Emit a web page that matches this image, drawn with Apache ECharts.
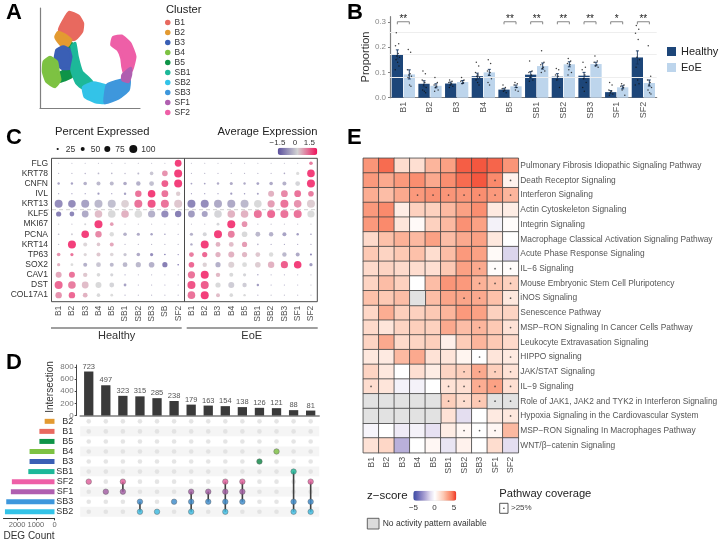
<!DOCTYPE html>
<html>
<head>
<meta charset="utf-8">
<style>html,body{margin:0;background:#fff}#chart{width:720px;height:539px}</style>
<script src="https://cdn.jsdelivr.net/npm/echarts@6/dist/echarts.min.js"></script>
</head>
<body>
<div id="chart"></div>
<script>
// shared
const clusters = ['B1','B2','B3','B4','B5','SB1','SB2','SB3','SF1','SF2']
const clusterColors = ['#E8695F','#E39A31','#3A5FB5','#7DC242','#0E9448','#1DB899','#33C3E8','#3E97DC','#B05FB0','#EE5FA7']

// A: cluster outlines
const umapOutlines = {
  B5: [[25,63],[31.7,64.7],[35,54.7],[32.7,44.7],[31.7,31.3],[18.3,26.3],[16.7,33],[28.3,39.7],[26.7,51.3]],
  B1: [[29.3,95.7],[38.3,92],[42.7,84.7],[41.7,76.3],[35,68.7],[28.3,68.7],[19.3,78],[24,88]],
  B2: [[18.3,75.7],[25,73],[31,68],[28.3,63],[23.3,61.3],[18.3,66.3],[15.7,71.3]],
  B3: [[16.7,58],[23.3,61.3],[30,58],[31.7,48],[30.7,39.7],[21.7,39.7],[15,46.3]],
  B4: [[10,50.7],[16.7,46.3],[18.3,36.3],[20,28],[15,21.3],[6.7,26.3],[3.3,36.3],[4,46.3]],
  SB1: [[31.7,61.3],[35,64.7],[37.3,51.3],[41.7,36.3],[51.7,26.3],[43.3,19.7],[36.7,24.7],[31.7,38],[34,51.3]],
  SB2: [[43.3,20.7],[53.3,25.3],[66,22],[68.3,13],[65,5.3],[55,6.3],[45,11.3]],
  SB3: [[67.3,23],[81.7,28],[89.3,28],[88.3,18],[78.3,9.7],[65,5.3]],
  SF1: [[82.7,33],[90.7,39.7],[90.7,33],[88.3,26.3],[82.7,28]],
  SF2: [[73.3,70.7],[81.7,72],[90,64.7],[95,51.3],[91.7,38],[85.3,32],[82.7,41.3],[81.7,49.7],[78.3,58],[71.7,63]]
}
const drawOrder = ['B5','B1','B2','B3','B4','SB1','SB2','SB3','SF2','SF1']

// B
const healthyMeans = [0.171,0.055,0.056,0.085,0.032,0.091,0.083,0.087,0.022,0.159]
const eoeMeans = [0.092,0.047,0.062,0.1,0.045,0.125,0.132,0.133,0.041,0.058]
const healthyErr = [0.018,0.012,0.006,0.012,0.005,0.012,0.012,0.013,0.006,0.026]
const eoeErr = [0.018,0.008,0.006,0.012,0.005,0.012,0.01,0.007,0.006,0.012]
const healthyDots = [
  [.257,.213,.205,.175,.165,.16,.15,.14,.125,.11],
  [.105,.095,.07,.06,.05,.04,.03,.025,.02],
  [.07,.065,.06,.055,.05,.045,.04],
  [.14,.125,.1,.09,.085,.08,.07,.06,.05],
  [.05,.04,.035,.03,.025,.02],
  [.145,.105,.1,.09,.08,.07,.065],
  [.115,.11,.09,.085,.07,.04],
  [.14,.12,.11,.09,.075,.06,.04,.025],
  [.06,.05,.03,.025,.02,.015,.01],
  [.285,.27,.255,.23,.16,.15,.12,.07,.055,.05]
]
const eoeDots = [
  [.19,.18,.11,.095,.09,.085,.08,.05,.045],
  [.08,.06,.05,.045,.04,.03,.025],
  [.08,.07,.065,.06,.055],
  [.15,.135,.105,.1,.09,.075,.06,.05],
  [.06,.055,.05,.04,.03,.025],
  [.185,.14,.13,.12,.115,.105,.1],
  [.155,.145,.135,.13,.11,.1,.09],
  [.165,.145,.14,.13,.125,.12],
  [.055,.05,.045,.04,.03,.01],
  [.205,.085,.07,.06,.05,.04,.03,.02,.015]
]
const jitter = [-.04,.05,-.07,.03,-.02,.08,-.05,.01,.06,-.08]
const signif = [['B1','**'],['B5','**'],['SB1','**'],['SB2','**'],['SB3','**'],['SF1','*'],['SF2','**']]
const faintLines = [0.257,0.171,0.083]

// C: one entry per gene, 20 columns (Healthy then EoE)
const genes = ['FLG','KRT78','CNFN','IVL','KRT13','KLF5','MKI67','PCNA','KRT14','TP63','SOX2','CAV1','DST','COL17A1']
const dotColumns = ['B1','B2','B3','B4','B5','SB1','SB2','SB3','SB','SF2','B1','B2','B3','B4','B5','SB1','SB2','SB3','SF1','SF2']
const pctExpressed = [
  [5,5,5,5,8,8,10,10,15,85, 5,5,5,5,6,6,6,8,10,45],
  [12,12,18,22,20,18,25,45,70,100, 8,8,8,8,10,10,12,20,40,95],
  [30,30,45,50,50,45,55,60,85,100, 22,22,30,38,30,35,45,50,60,100],
  [8,12,15,28,12,30,80,95,85,55, 10,10,15,28,18,25,75,85,85,70],
  [100,95,100,100,100,95,100,100,100,100, 100,100,100,100,100,95,90,100,95,100],
  [65,60,85,95,95,95,95,90,90,80, 85,75,95,95,95,100,100,100,100,90],
  [6,6,25,100,45,6,6,5,5,5, 6,6,35,100,70,8,8,6,6,6],
  [20,25,95,80,55,45,40,30,20,15, 40,50,100,85,70,60,55,50,30,20],
  [15,100,50,45,50,10,8,8,8,8, 30,100,60,60,65,20,12,12,12,12],
  [45,40,40,50,45,40,45,40,20,15, 60,65,65,75,65,60,55,55,50,25],
  [40,35,50,60,50,60,65,70,65,20, 70,55,65,75,60,70,80,90,95,40],
  [75,75,55,45,40,15,8,8,8,8, 90,100,55,50,40,18,10,10,10,8],
  [100,95,85,75,60,35,12,12,10,8, 100,100,65,75,55,30,12,12,10,8],
  [80,80,60,45,35,12,8,8,8,8, 95,100,50,45,30,10,8,8,8,8]
]
const avgExpression = [
  [-.4,-.4,-.4,-.4,-.4,-.4,-.4,-.4,-.4,1.5, -.4,-.4,-.4,-.4,-.4,-.4,-.4,-.4,-.4,.9],
  [-.5,-.5,-.6,-.5,-.5,-.5,-.5,-.3,.7,1.5, -.5,-.5,-.5,-.5,-.5,-.5,-.5,-.7,0,1.5],
  [-.8,-.8,-.6,-.5,-.5,-.7,-.6,-.4,1.2,1.5, -.8,-.8,-.7,-.7,-.7,-.8,-.7,-.6,-.1,1.5],
  [-.8,-.8,-.9,-.9,-.9,-.8,1,1.5,1,.15, -.9,-.9,-1,-.9,-.9,-.8,.4,.8,1,.9],
  [-1.1,-1.1,-.8,-.5,-.4,.1,1,1.3,1,.2, -1.2,-1.1,-.7,-.7,-.5,-.05,.6,1,.7,.15],
  [-1.3,-1.2,-.7,.3,-.05,.4,0,-.6,-1.1,-1.3, -.9,-.8,-.1,.4,.4,1,1.1,1,1,0],
  [-.3,-.3,-.1,1.5,.6,-.3,-.3,-.3,-.3,-.3, -.3,-.3,-.1,1.5,.7,-.4,-.4,-.3,-.3,-.3],
  [-.5,-.2,1.5,.8,0,-.6,-.7,-.8,-.8,-.8, -.6,-.1,1.5,.9,-.05,-.5,-.6,-.8,-.9,-.9],
  [-.5,1.5,.05,.2,.5,-.5,-.5,-.5,-.5,-.5, -.7,1.5,.4,.3,.6,-.6,-.7,-.7,-.7,-.7],
  [.7,1,.05,.2,.05,-.3,-.7,-1.1,-1.3,-1.3, .9,1.1,.4,.4,.35,.2,0,-.5,-.7,-1.2],
  [.4,0,-.6,-.3,-.5,-.5,-.5,-.6,-1.3,-1.5, 1.1,.1,-.6,.1,0,.15,.4,1.2,1.5,-.9],
  [.5,1,.2,-.05,-.1,-.8,-.5,-.5,-.5,-.5, 1,1.5,.35,-.05,-.1,-.8,-.6,-.6,-.5,-.5],
  [1.1,.9,.3,-.05,-.1,-.8,-.7,-.7,-.7,-.6, 1.3,1.2,-.05,-.2,-.2,-.9,-.8,-.7,-.6,-.5],
  [.7,1.1,.4,-.05,0,-.6,-.5,-.5,-.5,-.5, 1,1.5,.3,-.05,-.05,-.6,-.4,-.4,-.4,-.4]
]
const sizeLegend = [25,50,75,100]

// D
const intersectionSizes = [723,497,323,315,285,238,179,163,154,138,126,121,88,81]
const degSets = ['B2','B1','B5','B4','B3','SB1','SF2','SF1','SB3','SB2']
const degCounts = [526,807,807,1333,1333,1400,2280,2333,2580,2650]
const degColors = ['#E39A31','#E8695F','#0E9448','#7DC242','#3A5FB5','#1DB899','#EE5FA7','#B05FB0','#3E97DC','#33C3E8']
const memberships = [
  ['SF2'],['SF1'],['SF2','SF1'],['SB3','SB2'],['SB2'],['SB3'],['SF1','SB3','SB2'],
  ['SF1','SB3'],['SF2','SF1','SB3','SB2'],['SF2','SF1','SB3'],['B3'],['B4'],['SB1','SB3','SB2'],['SF2','SB3','SB2']
]
const memberColors = {SF2:'#E5609F',SF1:'#A45CA5',SB3:'#3E8FCF',SB2:'#3DBDE3',B3:'#0F8A47',B4:'#7DC242',SB1:'#1DB899'}

// E
const pathways = [
  'Pulmonary Fibrosis Idiopathic Signaling Pathway','Death Receptor Signaling','Interferon Signaling',
  'Actin Cytoskeleton Signaling','Integrin Signaling','Macrophage Classical Activation Signaling Pathway',
  'Acute Phase Response Signaling','IL−6 Signaling','Mouse Embryonic Stem Cell Pluripotency','iNOS Signaling',
  'Senescence Pathway','MSP−RON Signaling In Cancer Cells Pathway','Leukocyte Extravasation Signaling',
  'HIPPO signaling','JAK/STAT Signaling','IL−9 Signaling','Role of JAK1, JAK2 and TYK2 in Interferon Signaling',
  'Hypoxia Signaling in the Cardiovascular System','MSP−RON Signaling In Macrophages Pathway','WNT/β−catenin Signaling'
]
const zScores = [
  [3.3,4.2,1.3,1.2,2.5,3,4.4,4.5,4.3,3.3],
  [3.2,2.8,3.2,3.5,2.8,3.5,4.2,4.5,3.6,.5],
  [2.7,2.3,2.8,3.2,3.4,3.3,3.3,3.5,3.2,2.5],
  [3.2,3.6,.7,1.7,1.7,2.4,3,3.5,.8,.7],
  [3.2,3.6,1,.2,1.7,2.4,3.4,3,-.4,.1],
  [1.4,2.2,2.6,2.4,3,2.3,2.8,3,.9,0],
  [2,1.6,2,2.2,1.3,2.3,3.2,3,.2,-1.2],
  [1.4,1.6,1.4,1.3,1.2,2,3,2.8,.1,.1],
  [1.6,2.3,1.7,0,2.3,3.3,3.2,2.6,2.2,1.7],
  [2.2,2,2.3,null,2.3,2.9,2.9,2.8,2.2,.9],
  [1.5,2.7,1.8,1.7,2,2.5,3.2,3,1.7,1.6],
  [1.4,1,1.6,1.8,1.7,2.8,2.3,2.5,2,1.1],
  [1.6,2.8,1.4,1.6,1.8,.6,1.9,2.5,2,1.4],
  [.9,.8,2.4,2.8,1.1,1,.4,0,1,.8],
  [1.6,.9,0,1.2,.7,1.6,1.8,2.8,1.8,1.1],
  [1.3,1,-.4,-.4,0,1.1,1.2,2.7,3,1.2],
  [null,null,null,null,null,1.8,1.3,2,null,null],
  [null,null,null,null,null,1.1,-1,0,.8,.9],
  [-.3,0,-.6,-.4,-.9,.7,.3,0,.3,2.4],
  [1.1,1.5,-2,0,.3,-.8,.5,0,1.3,-1]
]
const coverageDots = [[],[8,9],[3,4,5,6,7,8,9],[],[],[],[],[7,8,9],[7,8,9],[6,7,9],[],[7,9],[],[7,9],[6,7,8,9],[0,5,6,7,8,9],[5,6,7,8,9],[9],[6,7,8],[]]

const FONT = '"Liberation Sans", Arial, sans-serif'
const GREY = '#7f7f7f'
const series = []
const graphic = []

const txt = (text, x, y, size, fill = '#222', extra = {}, rotation = 0) => graphic.push({
  type: 'text', x, y, rotation, silent: true, z: 20,
  style: { text, fontSize: size, fontFamily: FONT, fill, textVerticalAlign: 'middle', ...extra }
})
const seg = (x1, y1, x2, y2, stroke, lineWidth = 1, lineDash) => graphic.push({
  type: 'line', silent: true, z: 19, shape: { x1, y1, x2, y2 }, style: { stroke, lineWidth, lineDash }
})

// panel letters
txt('A', 6, 12.5, 22, '#000', { fontWeight: 'bold' })
txt('B', 347, 12.5, 22, '#000', { fontWeight: 'bold' })
txt('C', 6, 138, 22, '#000', { fontWeight: 'bold' })
txt('D', 6, 363, 22, '#000', { fontWeight: 'bold' })
txt('E', 347, 138, 22, '#000', { fontWeight: 'bold' })

// ---- A ----
drawOrder.forEach((name) => {
  const color = clusterColors[clusters.indexOf(name)]
  const outline = umapOutlines[name]
  series.push({
    name, type: 'custom', xAxisIndex: 0, yAxisIndex: 0, clip: false,
    itemStyle: { color },
    data: outline,
    renderItem: (params, api) => {
      if (params.dataIndex !== 0) return null
      return {
        type: 'polygon',
        shape: { points: outline.map((p) => api.coord(p)), smooth: 0.15 },
        style: { fill: color, stroke: color, lineWidth: 3, lineJoin: 'round' }
      }
    }
  })
})
txt('Cluster', 166, 10, 11.2)

// ---- B ----
series.push({
  name: 'Healthy', type: 'bar', xAxisIndex: 1, yAxisIndex: 1, data: healthyMeans, barWidth: 11.3, barGap: '6%',
  itemStyle: { color: '#1D4679' },
  markLine: { silent: true, symbol: 'none', label: { show: false }, lineStyle: { color: '#eeeeee', type: 'solid', width: 1 }, data: faintLines.map((v) => ({ yAxis: v })) }
})
series.push({ name: 'EoE', type: 'bar', xAxisIndex: 1, yAxisIndex: 1, data: eoeMeans, barWidth: 11.3, barGap: '6%', itemStyle: { color: '#BDD5EC' } })

const dodge = [0.276, 0.724]
const errData = []
healthyMeans.forEach((v, i) => errData.push([i + dodge[0], v - healthyErr[i], v + healthyErr[i]]))
eoeMeans.forEach((v, i) => errData.push([i + dodge[1], v - eoeErr[i], v + eoeErr[i]]))
series.push({
  type: 'custom', xAxisIndex: 2, yAxisIndex: 1, data: errData, encode: { x: 0, y: [1, 2] }, z: 5,
  renderItem: (params, api) => {
    const lo = api.coord([api.value(0), api.value(1)])
    const hi = api.coord([api.value(0), api.value(2)])
    const st = { stroke: '#16365f', lineWidth: 0.9 }
    return { type: 'group', children: [
      { type: 'line', shape: { x1: lo[0], y1: lo[1], x2: hi[0], y2: hi[1] }, style: st },
      { type: 'line', shape: { x1: hi[0] - 1.5, y1: hi[1], x2: hi[0] + 1.5, y2: hi[1] }, style: st },
      { type: 'line', shape: { x1: lo[0] - 1.5, y1: lo[1], x2: lo[0] + 1.5, y2: lo[1] }, style: st }
    ] }
  }
})
const stripData = []
const pushStrip = (groups, d) => groups.forEach((ys, i) => ys.forEach((y, k) => stripData.push([i + d + jitter[k % jitter.length], y])))
pushStrip(healthyDots, dodge[0])
pushStrip(eoeDots, dodge[1])
series.push({ type: 'scatter', xAxisIndex: 2, yAxisIndex: 1, data: stripData, symbolSize: 1.5, itemStyle: { color: '#111' }, z: 6 })

series.push({
  type: 'custom', xAxisIndex: 2, yAxisIndex: 1, clip: false, z: 6,
  data: signif.map(([c, s]) => [clusters.indexOf(c) + 0.5, 0.3, s]),
  encode: { x: 0, y: 1 },
  renderItem: (params, api) => {
    const x0 = api.value(0)
    const a = api.coord([x0 - 0.225, 0.29])
    const b = api.coord([x0 - 0.225, 0.3])
    const c = api.coord([x0 + 0.225, 0.3])
    const d = api.coord([x0 + 0.225, 0.29])
    return { type: 'group', children: [
      { type: 'polyline', shape: { points: [a, b, c, d] }, style: { stroke: '#777', lineWidth: 0.9, fill: 'none' } },
      { type: 'text', x: (b[0] + c[0]) / 2, y: b[1] - 2.5, style: { text: signif[params.dataIndex][1], fontSize: 10, fontFamily: FONT, fill: '#222', textAlign: 'center', textVerticalAlign: 'middle' } }
    ] }
  }
})
txt('Proportion', 366, 57, 11, '#333', { textAlign: 'center' }, Math.PI / 2)

// ---- C ----
const dotIndex = series.length
const dotData = []
genes.forEach((g, r) => dotColumns.forEach((c, k) => dotData.push([k, r, pctExpressed[r][k], avgExpression[r][k]])))
series.push({
  type: 'scatter', xAxisIndex: 3, yAxisIndex: 3, data: dotData, encode: { x: 0, y: 1 },
  symbolSize: (v) => Math.max(v[2] * 0.08, 1.2)
})
graphic.push({ type: 'rect', silent: true, z: 19, shape: { x: 51.5, y: 158.3, width: 265.8, height: 143.4 }, style: { fill: 'none', stroke: '#4a4a4a', lineWidth: 1 } })
seg(184.5, 158.3, 184.5, 301.7, '#4a4a4a', 1)
seg(45, 209.7, 317, 209.7, '#cfcfcf', 1, [4, 3])
seg(51, 328, 181.7, 328, GREY, 1.3)
seg(186.7, 328, 317.7, 328, GREY, 1.3)
txt('Healthy', 116.7, 335.5, 11, '#333', { textAlign: 'center' })
txt('EoE', 251.7, 335.5, 11, '#333', { textAlign: 'center' })
txt('Percent Expressed', 55, 132, 11.2)
txt('Average Expression', 317.5, 132, 11.2, '#222', { textAlign: 'right' })
txt('−1.5', 277.5, 143, 8, '#333', { textAlign: 'center' })
txt('0', 295, 143, 8, '#333', { textAlign: 'center' })
txt('1.5', 309.3, 143, 8, '#333', { textAlign: 'center' })
sizeLegend.forEach((p, i) => {
  const x = [57.7, 82.7, 107.3, 133.3][i]
  graphic.push({ type: 'circle', silent: true, shape: { cx: x, cy: 149, r: Math.max(p * 0.04, 1.1) }, style: { fill: '#111' } })
  txt(String(p), x + 8, 149.5, 8.5, '#333')
})

// ---- D ----
series.push({
  type: 'bar', xAxisIndex: 4, yAxisIndex: 4, data: intersectionSizes, barWidth: 9.3,
  itemStyle: { color: '#3a3a3a' },
  label: { show: true, position: 'top', distance: 1, fontSize: 7.5, color: '#555', fontFamily: FONT }
})
series.push({
  type: 'bar', xAxisIndex: 6, yAxisIndex: 6, barWidth: 5,
  data: degCounts.map((v, i) => ({ value: v, itemStyle: { color: degColors[i] } }))
})
const allCells = []
intersectionSizes.forEach((_, c) => degSets.forEach((_s, r) => allCells.push([c, r])))
series.push({ type: 'scatter', xAxisIndex: 5, yAxisIndex: 5, data: allCells, symbolSize: 4.6, itemStyle: { color: '#dedede' }, z: 2 })
const linkData = []
const memberDots = []
memberships.forEach((sets, c) => {
  const rows = sets.map((s) => degSets.indexOf(s))
  if (rows.length > 1) linkData.push([c, Math.min(...rows), Math.max(...rows)])
  sets.forEach((s) => memberDots.push({ value: [c, degSets.indexOf(s)], itemStyle: { color: memberColors[s], borderColor: '#555', borderWidth: 0.5 } }))
})
series.push({
  type: 'custom', xAxisIndex: 5, yAxisIndex: 5, data: linkData, encode: { x: 0, y: [1, 2] }, z: 3,
  renderItem: (params, api) => {
    const a = api.coord([api.value(0), api.value(1)])
    const b = api.coord([api.value(0), api.value(2)])
    return { type: 'line', shape: { x1: a[0], y1: a[1], x2: b[0], y2: b[1] }, style: { stroke: '#404040', lineWidth: 1.6 } }
  }
})
series.push({ type: 'scatter', xAxisIndex: 5, yAxisIndex: 5, data: memberDots, symbolSize: 5.5, z: 4 })
txt('Intersection', 50.7, 387, 10, '#333', { textAlign: 'center' }, Math.PI / 2)

// ---- E ----
const heatIndex = series.length
const heatData = []
const naData = []
pathways.forEach((p, r) => clusters.forEach((c, k) => {
  if (zScores[r][k] === null) naData.push([k, r, 0])
  else heatData.push([k, r, zScores[r][k]])
}))
const cellStyle = { borderColor: '#444', borderWidth: 0.8 }
series.push({ type: 'heatmap', xAxisIndex: 7, yAxisIndex: 7, data: heatData, itemStyle: cellStyle })
series.push({ type: 'heatmap', xAxisIndex: 7, yAxisIndex: 7, data: naData, itemStyle: { ...cellStyle, color: '#E2E2E2' } })
const covData = []
coverageDots.forEach((cols, r) => cols.forEach((k) => covData.push([k, r])))
series.push({ type: 'scatter', xAxisIndex: 7, yAxisIndex: 7, data: covData, symbolSize: 1.7, itemStyle: { color: '#333' }, z: 5 })
txt('z−score', 367, 496, 11.5, '#222')
txt('−5', 413.5, 507.5, 8, '#333', { textAlign: 'center' })
txt('0', 434.5, 507.5, 8, '#333', { textAlign: 'center' })
txt('5', 454, 507.5, 8, '#333', { textAlign: 'center' })
txt('Pathway coverage', 499.3, 494, 11.2, '#222')
graphic.push({ type: 'rect', silent: true, shape: { x: 499.7, y: 503.3, width: 8.3, height: 10 }, style: { fill: '#fff', stroke: '#444', lineWidth: 0.9 } })
graphic.push({ type: 'circle', silent: true, z: 20, shape: { cx: 503.9, cy: 508.3, r: 0.8 }, style: { fill: '#333' } })
txt('>25%', 511, 508, 8, '#444')
graphic.push({ type: 'rect', silent: true, shape: { x: 367.3, y: 518.3, width: 11.7, height: 10.7 }, style: { fill: '#DCDCDC', stroke: '#555', lineWidth: 0.9 } })
txt('No activity pattern available', 382.7, 524, 8.5, '#333')

const hiddenValue = { type: 'value', show: false, splitLine: { show: false } }
const greyLine = { lineStyle: { color: GREY, width: 1.2 } }
const fixedGrid = { outerBoundsMode: 'none' }

const option = {
  animation: false,
  textStyle: { fontFamily: FONT },
  grid: [
    { ...fixedGrid, left: 40, top: 8, width: 100, height: 100 },
    { ...fixedGrid, left: 390, top: 16.7, width: 266.7, height: 81 },
    { ...fixedGrid, left: 52, top: 158.2, width: 265.6, height: 142 },
    { ...fixedGrid, left: 80.2, top: 365, width: 239, height: 50.5 },
    { ...fixedGrid, left: 80.2, top: 416.3, width: 239, height: 100.5 },
    { ...fixedGrid, left: 3.5, top: 416.3, width: 51, height: 100.5 },
    { ...fixedGrid, left: 363.3, top: 158.3, width: 155, height: 294.4 }
  ],
  xAxis: [
    { gridIndex: 0, type: 'value', min: 0, max: 100, axisLine: { show: true, ...greyLine }, axisTick: { show: false }, axisLabel: { show: false }, splitLine: { show: false } },
    { gridIndex: 1, type: 'category', data: clusters, axisLine: greyLine, axisTick: { length: 2, lineStyle: { color: GREY } },
      axisLabel: { rotate: 90, fontSize: 9, color: '#555', margin: 4, interval: 0 } },
    { gridIndex: 1, ...hiddenValue, min: 0, max: 10 },
    { gridIndex: 2, type: 'category', data: dotColumns, offset: 1.5, axisLine: { show: false }, axisTick: { length: 2, lineStyle: { color: '#666' } },
      axisLabel: { rotate: 90, fontSize: 8.5, color: '#555', margin: 4, interval: 0 } },
    { gridIndex: 3, type: 'category', data: intersectionSizes.map((v, i) => String(i)), axisLine: { lineStyle: { color: GREY, width: 1.5 } }, axisTick: { show: false }, axisLabel: { show: false } },
    { gridIndex: 4, type: 'category', data: intersectionSizes.map((v, i) => String(i)), axisLine: { show: false }, axisTick: { show: false }, axisLabel: { show: false } },
    { gridIndex: 5, type: 'value', inverse: true, min: 0, max: 2727, offset: 1.5, splitLine: { show: false },
      axisLine: { show: true, lineStyle: { color: '#333', width: 1 } },
      axisTick: { show: true, length: 2, customValues: [0, 1000, 2000], lineStyle: { color: '#333' } },
      axisLabel: { fontSize: 7.5, color: '#666', margin: 3, customValues: [0, 1000, 2000], formatter: (v) => String(v) },
      name: 'DEG Count', nameLocation: 'middle', nameGap: 13, nameTextStyle: { fontSize: 10, color: '#333' } },
    { gridIndex: 6, type: 'category', data: clusters, axisLine: { show: false }, axisTick: { length: 2, lineStyle: { color: '#444' } },
      axisLabel: { rotate: 90, fontSize: 9, color: '#555', margin: 4, interval: 0 } }
  ],
  yAxis: [
    { gridIndex: 0, type: 'value', min: 0, max: 100, axisLine: { show: true, ...greyLine }, axisTick: { show: false }, axisLabel: { show: false }, splitLine: { show: false } },
    { gridIndex: 1, type: 'value', min: 0, max: 0.32, splitLine: { show: false }, axisLine: { show: true, ...greyLine },
      axisTick: { show: true, length: 2, customValues: [0, 0.1, 0.2, 0.3], lineStyle: { color: GREY } },
      axisLabel: { fontSize: 8, color: '#888', margin: 4, customValues: [0, 0.1, 0.2, 0.3], formatter: (v) => v.toFixed(1) } },
    { gridIndex: 1, ...hiddenValue, min: 0, max: 0.32 },
    { gridIndex: 2, type: 'category', data: genes, inverse: true, axisLine: { show: false }, axisTick: { length: 2, lineStyle: { color: '#444' } },
      axisLabel: { fontSize: 8.5, color: '#333', margin: 4, interval: 0 } },
    { gridIndex: 3, type: 'value', min: 0, max: 830, offset: 3.5, splitLine: { show: false }, axisLine: { show: true, lineStyle: { color: '#444' } },
      axisTick: { show: true, length: 2, customValues: [0, 200, 400, 600, 800], lineStyle: { color: '#444' } },
      axisLabel: { fontSize: 8, color: '#777', margin: 3, customValues: [0, 200, 400, 600, 800] } },
    { gridIndex: 4, type: 'category', data: degSets, inverse: true, axisLine: { show: false }, axisTick: { show: false },
      axisLabel: { fontSize: 9, color: '#333', margin: 7, interval: 0 },
      splitArea: { show: true, interval: 0, areaStyle: { color: ['#ffffff', '#f5f5f5'] } } },
    { gridIndex: 5, type: 'category', data: degSets, inverse: true, axisLine: { show: false }, axisTick: { show: false }, axisLabel: { show: false } },
    { gridIndex: 6, type: 'category', data: pathways, inverse: true, position: 'right', axisLine: { show: false }, axisTick: { length: 2, lineStyle: { color: '#444' } },
      axisLabel: { fontSize: 8.4, color: '#555', margin: 2, interval: 0 } }
  ],
  legend: [
    { left: 165, top: 18, orient: 'vertical', icon: 'circle', itemWidth: 5.5, itemHeight: 5.5, itemGap: 1, padding: 0, selectedMode: false,
      data: clusters, textStyle: { fontSize: 8.5, color: '#333', padding: [0, 0, 0, -1] } },
    { left: 667, top: 46, orient: 'vertical', icon: 'rect', itemWidth: 9, itemHeight: 9, itemGap: 5, padding: 0, selectedMode: false,
      data: ['Healthy', 'EoE'], textStyle: { fontSize: 11, color: '#222' } }
  ],
  visualMap: [
    { type: 'continuous', seriesIndex: dotIndex, dimension: 3, min: -1.5, max: 1.5, orient: 'horizontal', left: 277.7, top: 147.7, itemWidth: 7.3, itemHeight: 39.6, padding: 0,
      calculable: false, text: null, borderRadius: 0, textStyle: { fontSize: 0 }, inRange: { color: ['#5A4E9C', '#D3D3D3', '#F0105A'] } },
    { type: 'continuous', seriesIndex: heatIndex, dimension: 2, min: -5, max: 5, orient: 'horizontal', left: 413.3, top: 490.7, itemWidth: 10, itemHeight: 43, padding: 0,
      calculable: false, text: null, borderRadius: 0, textStyle: { fontSize: 0 },
      inRange: { color: ['#3B4BA5','#6566B5','#8F88C6','#B9B0DA','#E4DEF0','#FFFFFF','#FEE5DA','#FDC9B4','#FBA184','#F97A5C','#EE3322'] } }
  ],
  graphic: { elements: graphic },
  series
}

const chart = echarts.init(document.getElementById('chart'))
chart.setOption(option)
</script>
</body>
</html>
